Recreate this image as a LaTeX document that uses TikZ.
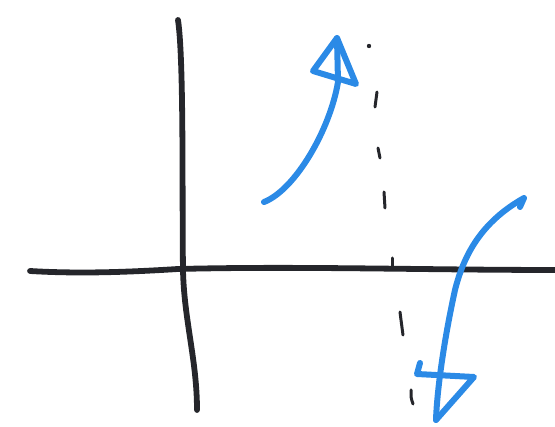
\documentclass[tikz,border=0pt]{standalone}
\definecolor{inkblack}{HTML}{25262B}
\definecolor{inkblue}{HTML}{2B8AE6}
\tikzset{
  axisline/.style={draw=inkblack,line width=5.8pt,line cap=round,line join=round},
  guide/.style={draw=inkblack,line width=3pt,line cap=round},
  bluestroke/.style={draw=inkblue,line width=6pt,line cap=round,line join=round}
}
\begin{document}
\begin{tikzpicture}[x=1pt,y=-1pt]
\useasboundingbox (0,0) rectangle (555,427);
% axes
\coordinate (xl) at (30,271);
\coordinate (xm) at (178,269);
\coordinate (xr) at (560,270);
\coordinate (yt) at (178,20);
\coordinate (yb) at (197,410);
\draw[axisline] (xl) .. controls (80,274) and (130,272) .. (xm) .. controls (300,266) and (420,270) .. (xr);
\draw[axisline] (yt) .. controls (184,60) and (182,200) .. (183,270) .. controls (184,320) and (197,360) .. (yb);
% tick on x axis
\coordinate (t1) at (392,258);
\coordinate (t2) at (392,268);
\draw[guide] (t1) -- (t2);
% dashed guide
\fill[inkblack] (369,46) circle (2.2);
\coordinate (d1a) at (377,92);  \coordinate (d1b) at (375,107);
\coordinate (d2a) at (378,148); \coordinate (d2b) at (380,158);
\coordinate (d3a) at (384,192); \coordinate (d3b) at (385,208);
\coordinate (d4a) at (400,312); \coordinate (d4b) at (403,335);
\coordinate (d5a) at (411,390); \coordinate (d5b) at (413,404);
\draw[guide] (d1a) -- (d1b);
\draw[guide] (d2a) -- (d2b);
\draw[guide] (d3a) -- (d3b);
\draw[guide] (d4a) .. controls (401,320) .. (d4b);
\draw[guide] (d5a) .. controls (411,398) .. (d5b);
% upper blue arrow
\coordinate (ua) at (264,202);
\coordinate (ub) at (338,82);
\coordinate (utip) at (337,38);
\coordinate (ul) at (313,71);
\coordinate (ur) at (356,84);
\draw[bluestroke] (ua) .. controls (295,190) and (330,130) .. (ub) -- (utip);
\draw[bluestroke] (utip) -- (ul) -- (ur) -- cycle;
% lower blue arrow
\coordinate (la) at (520,207);
\coordinate (lb) at (524,198);
\coordinate (lmid) at (455,290);
\coordinate (ltip) at (436,420);
\coordinate (ll) at (417,374);
\coordinate (llh) at (420,363);
\coordinate (lr) at (474,377);
\draw[bluestroke] (la) -- (lb) .. controls (485,220) and (465,250) .. (lmid) .. controls (444,340) and (437,390) .. (ltip);
\draw[bluestroke] (llh) -- (ll) -- (lr) -- (ltip);
\end{tikzpicture}
\end{document}
